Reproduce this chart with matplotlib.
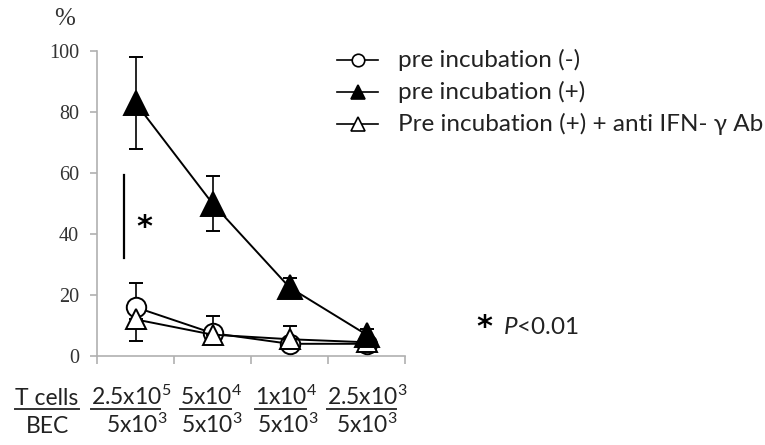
import matplotlib
matplotlib.use("Agg")
import matplotlib.pyplot as plt
from matplotlib.lines import Line2D

plt.rcParams["mathtext.fontset"] = "custom"
plt.rcParams["mathtext.rm"] = "Lato"
plt.rcParams["mathtext.it"] = "Lato:italic"
plt.rcParams["mathtext.bf"] = "Lato:bold"

# Data
t_cells = ["2.5x10$^5$", "5x10$^4$", "1x10$^4$", "2.5x10$^3$"]
bec = ["5x10$^3$", "5x10$^3$", "5x10$^3$", "5x10$^3$"]
pre_neg = [16, 7.5, 4, 4]
pre_neg_err = [8, 5.5, 6, 1]
pre_pos = [83, 50, 22.5, 7]
pre_pos_err = [15, 9, 3, 2]
pre_ab = [12, 7, 5.5, 4.5]
pre_ab_err = [7, 1, 1, 1]
labels = ["pre incubation (-)", "pre incubation (+)", "Pre incubation (+) + anti IFN- \u03b3 Ab"]
yticks = [0, 20, 40, 60, 80, 100]

W, H = 765, 445
fig = plt.figure(figsize=(W / 100, H / 100), dpi=100)
ax = fig.add_axes([97 / W, 1 - 356 / H, (405 - 97) / W, (356 - 51) / H])

x = [i + 0.5 for i in range(len(t_cells))]
lw = 1.4
ax.errorbar(x, pre_neg, yerr=[[0] * 4, pre_neg_err], color="black", lw=lw,
            marker="o", ms=14, mfc="white", mec="black", mew=1.4,
            capsize=5, elinewidth=1.2, capthick=1.2, zorder=3)
ax.errorbar(x, pre_ab, yerr=[pre_ab_err, [0] * 4], color="black", lw=lw,
            marker="^", ms=15, mfc="white", mec="black", mew=1.4,
            capsize=5, elinewidth=1.2, capthick=1.2, zorder=4)
ax.errorbar(x, pre_pos, yerr=pre_pos_err, color="black", lw=lw,
            marker="^", ms=17, mfc="black", mec="black", mew=1.4,
            capsize=5, elinewidth=1.2, capthick=1.2, zorder=5)

ax.set_xlim(0, 4)
ax.set_ylim(0, 100)
ax.set_xticks([0, 1, 2, 3, 4])
ax.set_xticklabels([])
ax.set_yticks(yticks)
ax.set_yticklabels([str(v) for v in yticks], family="Liberation Serif", fontsize=14.5, color="#333333")
for s in ["top", "right"]:
    ax.spines[s].set_visible(False)
for s in ["left", "bottom"]:
    ax.spines[s].set_color("#b0b0b0")
    ax.spines[s].set_linewidth(1.2)
ax.tick_params(axis="both", direction="out", color="#b0b0b0", width=1.2, length=5)
ax.tick_params(axis="y", length=5, pad=8)
ax.tick_params(axis="x", length=6)

# significance bar
ax.plot([0.35, 0.35], [32, 59.5], color="black", lw=1.6, zorder=2)
ax.text(0.62, 42, "*", fontsize=22, fontweight="bold", ha="center", va="center", family="DejaVu Sans")

fig.text(65 / W, 1 - 19 / H, "%", fontsize=18, ha="center", va="center",
         family="Liberation Serif", color="#333333")

font = "Lato"
fs = 17.5
# legend (manual)
rows_y = [60, 92, 124]
styles = [dict(marker="o", mfc="white", ms=9), dict(marker="^", mfc="black", ms=10),
          dict(marker="^", mfc="white", ms=10)]
for yy, st, lab in zip(rows_y, styles, labels):
    fy = 1 - yy / H
    fig.add_artist(Line2D([337 / W, 378 / W], [fy, fy], color="black", lw=1.2))
    fig.add_artist(Line2D([357.5 / W], [fy], color="black", marker=st["marker"],
                          ms=st["ms"], mfc=st["mfc"], mec="black", mew=1.2, ls="none"))
    fig.text(398 / W, fy, lab, fontsize=fs, family=font, va="center", ha="left", color="#222222")

# p value
fig.text(476 / W, 1 - 327 / H, "*", fontsize=22, fontweight="bold", ha="left", va="center", family="DejaVu Sans")
fig.text(503 / W, 1 - 327 / H, "$\\it{P}$<0.01", fontsize=fs, ha="left", va="center",
         family=font, color="#222222")

# bottom labels with underline
fs2 = 16.5
fig.canvas.draw()
renderer = fig.canvas.get_renderer()
base_top = 405
base_bot = 433

def underlined(xc, s):
    t = fig.text(xc / W, 1 - base_top / H, s, fontsize=fs2, family=font, ha="center",
                 va="baseline", color="#222222")
    bb = t.get_window_extent(renderer)
    main = s.split("$")[0]
    tmp = fig.text(0, 0, main, fontsize=fs2, family=font)
    wmain = tmp.get_window_extent(renderer).width
    tmp.remove()
    uy = (H - base_top - 3.5) / H
    fig.add_artist(Line2D([bb.x0 / W, (bb.x0 + wmain) / W], [uy, uy], color="#333333", lw=1.4))
    return t

underlined(47, "T cells")
fig.text(47 / W, 1 - base_bot / H, "BEC", fontsize=fs2, family=font, ha="center", va="baseline", color="#222222")
xc_top = [131, 211, 286, 367]
xc_bot = [137, 212, 288, 367]
for xt, xb, a, b in zip(xc_top, xc_bot, t_cells, bec):
    underlined(xt, a)
    fig.text(xb / W, 1 - base_bot / H, b, fontsize=fs2, family=font, ha="center", va="baseline", color="#222222")

fig.savefig("out.png", dpi=100)
